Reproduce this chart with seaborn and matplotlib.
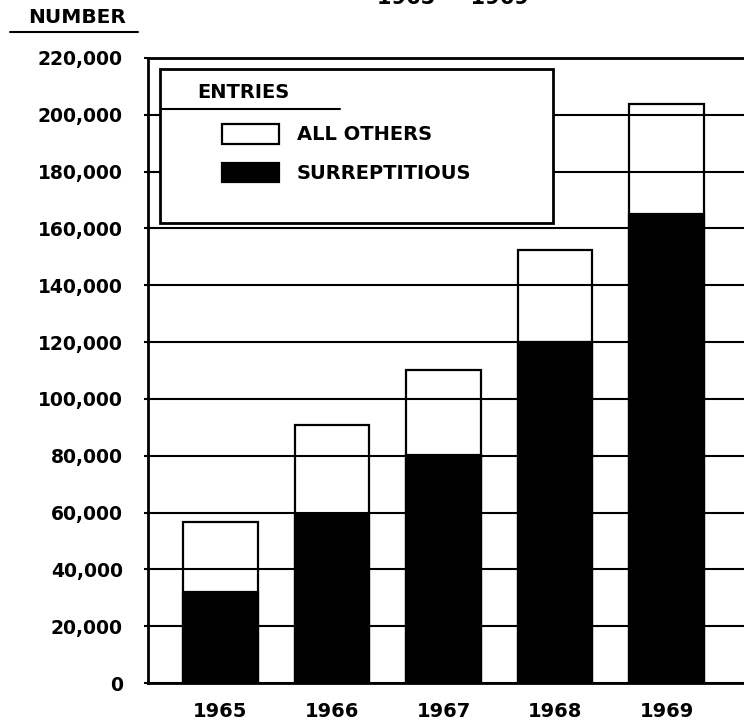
import pandas as pd
import matplotlib.pyplot as plt
import seaborn as sns
from matplotlib.patches import Rectangle
from matplotlib.lines import Line2D

# Datos (entradas por año)
years = ["1965", "1966", "1967", "1968", "1969"]
surreptitious = [31900, 59400, 80200, 120000, 165200]
all_others = [24700, 31300, 29900, 32400, 38600]
y_ticks = [0, 20000, 40000, 60000, 80000, 100000, 120000,
           140000, 160000, 180000, 200000, 220000]

df = pd.DataFrame({"year": years,
                   "surreptitious": surreptitious,
                   "all_others": all_others})
df["total"] = df["surreptitious"] + df["all_others"]

sns.set_style("white")
plt.rcParams["font.family"] = ["DejaVu Sans"]
plt.rcParams["font.weight"] = "bold"
plt.rcParams["text.color"] = "black"
plt.rcParams["xtick.color"] = "black"
plt.rcParams["ytick.color"] = "black"

fig = plt.figure(figsize=(7.44, 7.21), dpi=100)
ax = fig.add_axes([0.1989, 0.0527, 0.8011, 0.867])

# Barras apiladas: total en blanco, subrepticias en negro encima
sns.barplot(data=df, x="year", y="total", color="white", edgecolor="black",
            linewidth=1.6, width=0.665, saturation=1, label="ALL OTHERS", ax=ax)
sns.barplot(data=df, x="year", y="surreptitious", color="black", edgecolor="black",
            linewidth=1.6, width=0.665, saturation=1, label="SURREPTITIOUS", ax=ax)

ax.set_xlim(-0.65, 4.695)
ax.set_ylim(0, 220000)
ax.set_yticks(y_ticks)
ax.set_yticklabels([f"{v:,}" for v in y_ticks])
ax.set_xlabel("")
ax.set_ylabel("")

ax.grid(axis="y", color="black", linewidth=1.5)
ax.grid(axis="x", visible=False)
ax.set_axisbelow(False)

ax.spines["right"].set_visible(False)
for side in ["left", "bottom", "top"]:
    ax.spines[side].set_color("black")
    ax.spines[side].set_linewidth(2)

ax.tick_params(axis="y", labelsize=13.5, length=3, width=1.5, pad=15, left=True)
ax.tick_params(axis="x", labelsize=14, length=0, pad=14)

# Cuadro de la leyenda
ax.add_patch(Rectangle((0.020, 0.736), 0.6595, 0.2464, transform=ax.transAxes,
                       facecolor="white", edgecolor="black", linewidth=2, zorder=3))
ax.text(0.082, 0.936, "ENTRIES", transform=ax.transAxes, fontsize=14,
        va="baseline", ha="left", zorder=4)
ax.add_line(Line2D([0.0235, 0.322], [0.918, 0.918], transform=ax.transAxes,
                   color="black", linewidth=1.5, zorder=4))
ax.legend(loc="upper left", bbox_to_anchor=(0.1242, 0.8944), frameon=False,
          fontsize=14, handlelength=2.95, handleheight=1.18, handletextpad=0.9,
          labelspacing=0.95, borderpad=0, borderaxespad=0)

# Textos de cabecera
fig.text(0.609, 1 - 4 / 721, "1965 — 1969", ha="center", va="baseline", fontsize=15)
fig.text(28 / 744, 1 - 23 / 721, "NUMBER", ha="left", va="baseline", fontsize=14.5)
fig.add_artist(Line2D([10 / 744, 138 / 744], [1 - 32 / 721, 1 - 32 / 721],
                      transform=fig.transFigure, color="black", linewidth=1.5))

fig.savefig("out.png", dpi=100)
